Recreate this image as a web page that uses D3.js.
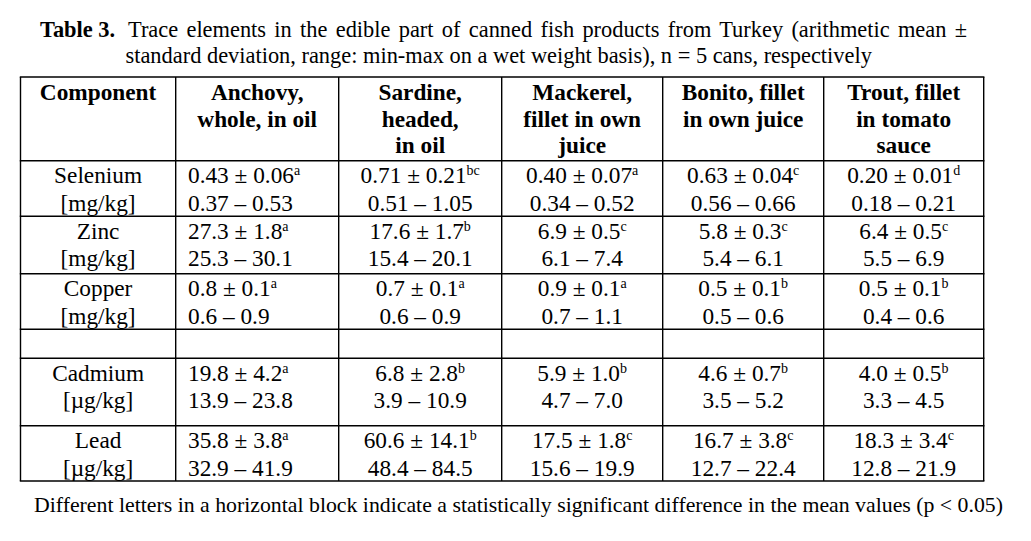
<!DOCTYPE html>
<html>
<head>
<meta charset="utf-8">
<script src="https://cdn.jsdelivr.net/npm/d3@7"></script>
<style>
  html, body { margin: 0; padding: 0; background: #fff; }
  svg { display: block; }
  text { font-family: "Liberation Serif", "Times New Roman", serif; fill: #000; }
</style>
</head>
<body>
<svg id="chart" width="1031" height="541"></svg>
<script>
// ---------------- DATA ----------------
const titleLabel = "Table 3.";
const titleLine1 = "Trace elements in the edible part of canned fish products from Turkey (arithmetic mean \u00b1";
const titleLine2 = "standard deviation, range: min-max on a wet weight basis), n = 5 cans, respectively";
const footnote = "Different letters in a horizontal block indicate a statistically significant difference in the mean values (p < 0.05)";

const headerFirst = ["Component"];
const products = [
  ["Anchovy,", "whole, in oil"],
  ["Sardine,", "headed,", "in oil"],
  ["Mackerel,", "fillet in own", "juice"],
  ["Bonito, fillet", "in own juice"],
  ["Trout, fillet", "in tomato", "sauce"]
];
const components = ["Selenium", "Zinc", "Copper", "Cadmium", "Lead"];
const units = ["[mg/kg]", "[mg/kg]", "[mg/kg]", "[\u00b5g/kg]", "[\u00b5g/kg]"];
const decimals = [2, 1, 1, 1, 1];
const means = [
  [0.43, 0.71, 0.40, 0.63, 0.20],
  [27.3, 17.6, 6.9, 5.8, 6.4],
  [0.8, 0.7, 0.9, 0.5, 0.5],
  [19.8, 6.8, 5.9, 4.6, 4.0],
  [35.8, 60.6, 17.5, 16.7, 18.3]
];
const sds = [
  [0.06, 0.21, 0.07, 0.04, 0.01],
  [1.8, 1.7, 0.5, 0.3, 0.5],
  [0.1, 0.1, 0.1, 0.1, 0.1],
  [4.2, 2.8, 1.0, 0.7, 0.5],
  [3.8, 14.1, 1.8, 3.8, 3.4]
];
const letters = [
  ["a", "bc", "a", "c", "d"],
  ["a", "b", "c", "c", "c"],
  ["a", "a", "a", "b", "b"],
  ["a", "b", "b", "b", "b"],
  ["a", "b", "c", "c", "c"]
];
const mins = [
  [0.37, 0.51, 0.34, 0.56, 0.18],
  [25.3, 15.4, 6.1, 5.4, 5.5],
  [0.6, 0.6, 0.7, 0.5, 0.4],
  [13.9, 3.9, 4.7, 3.5, 3.3],
  [32.9, 48.4, 15.6, 12.7, 12.8]
];
const maxs = [
  [0.53, 1.05, 0.52, 0.66, 0.21],
  [30.1, 20.1, 7.4, 6.1, 6.9],
  [0.9, 0.9, 1.1, 0.6, 0.6],
  [23.8, 10.9, 7.0, 5.2, 4.5],
  [41.9, 84.5, 19.9, 22.4, 21.9]
];

// ---------------- LAYOUT ----------------
const colEdges = [20.5, 175.7, 338.7, 501.7, 662.7, 823.7, 983.7];
// header, Se, Zn, Cu, (empty), Cd, Pb
const rowEdges = [77, 160.7, 216.3, 273.7, 329.3, 358.3, 425.7, 481];
const compRow = [1, 2, 3, 5, 6];
const tableFont = 23.3;
const supFont = 14;
const titleFont = 22.4;
const footFont = 21.8;
const lineGap = 27.3;

const svg = d3.select("#chart");

// ---- title ----
svg.append("text")
  .attr("x", 40).attr("y", 36.5)
  .style("font-size", titleFont + "px").style("font-weight", "bold")
  .text(titleLabel);

const t1 = svg.append("text")
  .attr("x", 128).attr("y", 36.5)
  .style("font-size", titleFont + "px")
  .text(titleLine1);
// justified first line
{
  const w = t1.node().getComputedTextLength();
  const target = 967 - 128;
  const nSp = titleLine1.split(" ").length - 1;
  t1.style("word-spacing", ((target - w) / nSp) + "px");
}
svg.append("text")
  .attr("x", 125.5).attr("y", 63.3)
  .style("font-size", titleFont + "px")
  .text(titleLine2);

// ---- grid lines ----
const grid = svg.append("g")
  .attr("stroke", "#000").attr("stroke-width", 1.4).attr("fill", "none");
grid.selectAll("line.h").data(rowEdges).join("line")
  .attr("class", "h")
  .attr("x1", colEdges[0] - 0.7).attr("x2", colEdges[colEdges.length - 1] + 0.7)
  .attr("y1", d => d).attr("y2", d => d);
grid.selectAll("line.v").data(colEdges).join("line")
  .attr("class", "v")
  .attr("x1", d => d).attr("x2", d => d)
  .attr("y1", rowEdges[0]).attr("y2", rowEdges[rowEdges.length - 1]);

const colCenter = i => (colEdges[i] + colEdges[i + 1]) / 2;

// ---- header ----
const headers = [headerFirst].concat(products);
const hdr = svg.append("g").style("font-size", tableFont + "px").style("font-weight", "bold");
headers.forEach((lines, ci) => {
  hdr.append("g").selectAll("text").data(lines).join("text")
    .attr("x", colCenter(ci))
    .attr("y", (d, li) => rowEdges[0] + 23 + li * 26.6)
    .attr("text-anchor", "middle")
    .text(d => d);
});

// ---- body ----
const body = svg.append("g").style("font-size", tableFont + "px");
components.forEach((comp, ri) => {
  const top = rowEdges[compRow[ri]];
  const y1 = top + 22.5, y2 = y1 + lineGap;
  body.append("text").attr("x", colCenter(0)).attr("y", y1)
    .attr("text-anchor", "middle").text(comp);
  body.append("text").attr("x", colCenter(0)).attr("y", y2)
    .attr("text-anchor", "middle").text(units[ri]);
  const dec = decimals[ri];
  products.forEach((p, pi) => {
    const ci = pi + 1;
    const leftAligned = pi === 0;
    const x = leftAligned ? 188 : colCenter(ci);
    const anchor = leftAligned ? "start" : "middle";
    const t = body.append("text").attr("x", x).attr("y", y1).attr("text-anchor", anchor);
    t.append("tspan").text(means[ri][pi].toFixed(dec) + " \u00b1 " + sds[ri][pi].toFixed(dec));
    t.append("tspan").attr("dy", -8).style("font-size", supFont + "px").text(letters[ri][pi]);
    body.append("text").attr("x", x).attr("y", y2).attr("text-anchor", anchor)
      .text(mins[ri][pi].toFixed(dec) + " \u2013 " + maxs[ri][pi].toFixed(dec));
  });
});

// ---- footnote ----
svg.append("text")
  .attr("x", 34).attr("y", 511.7)
  .style("font-size", footFont + "px")
  .text(footnote);
</script>
</body>
</html>
